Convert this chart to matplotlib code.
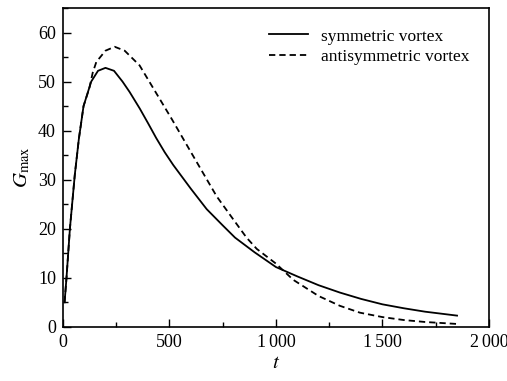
import matplotlib
matplotlib.use("Agg")
import matplotlib.pyplot as plt
from matplotlib.ticker import MultipleLocator, FixedLocator, FixedFormatter

plt.rcParams["font.family"] = ["Liberation Serif", "DejaVu Serif"]
plt.rcParams["mathtext.fontset"] = "stix"

# Symmetric vortex (solid)
t_sym = [8, 17, 33, 56, 75, 97, 133, 165, 200, 240, 280, 313, 361, 400,
         438, 478, 518, 600, 675, 750, 808, 900, 1000, 1100, 1200, 1300,
         1400, 1500, 1600, 1700, 1850]
g_sym = [5.0, 10.0, 20.0, 31.0, 38.3, 45.0, 50.0, 52.2, 52.8, 52.2, 50.0,
         47.9, 44.5, 41.5, 38.5, 35.6, 33.0, 28.2, 24.0, 20.7, 18.2, 15.2,
         12.2, 10.3, 8.5, 7.0, 5.7, 4.6, 3.8, 3.1, 2.3]

# Antisymmetric vortex (dashed)
t_anti = [8, 17, 33, 56, 75, 97, 125, 140, 157, 200, 243, 290, 360, 454,
          512, 600, 675, 722, 800, 862, 910, 1000, 1081, 1200, 1300, 1394,
          1500, 1600, 1700, 1850]
g_anti = [5.0, 10.0, 20.0, 31.0, 38.3, 45.0, 48.8, 51.8, 54.0, 56.3, 57.1,
          56.3, 53.3, 46.5, 42.3, 35.7, 30.1, 26.6, 21.9, 18.2, 15.9, 12.9,
          9.6, 6.3, 4.3, 2.9, 2.0, 1.4, 1.0, 0.6]

x_ticks = [0, 500, 1000, 1500, 2000]
x_tick_labels = ["0", "500", "1\u2006000", "1\u2006500", "2\u2006000"]

fig = plt.figure(figsize=(5.07, 3.81), dpi=100)
ax = fig.add_axes([0.124, 0.142, 0.8405, 0.837])

ax.plot(t_sym, g_sym, color="black", lw=1.3, label="symmetric vortex")
ax.plot(t_anti, g_anti, color="black", lw=1.3, linestyle=(0, (3.5, 2.2)),
        label="antisymmetric vortex")

ax.set_xlim(0, 2000)
ax.set_ylim(0, 65)
ax.xaxis.set_major_locator(FixedLocator(x_ticks))
ax.xaxis.set_major_formatter(FixedFormatter(x_tick_labels))
ax.xaxis.set_minor_locator(MultipleLocator(250))
ax.yaxis.set_major_locator(MultipleLocator(10))
ax.yaxis.set_minor_locator(MultipleLocator(5))
ax.tick_params(which="both", direction="in", top=False, right=False,
               labelsize=13, width=1.0)
ax.tick_params(which="major", length=6, pad=5)
ax.tick_params(which="minor", length=3.5)
for s in ax.spines.values():
    s.set_linewidth(1.2)

ax.set_xlabel(r"$t$", fontsize=15, labelpad=2)
ax.set_ylabel(r"$G_{\rm max}$", fontsize=15, labelpad=4)

ax.legend(loc="upper right", frameon=False, fontsize=12.5, handlelength=2.2,
          handletextpad=0.75, labelspacing=0.25, borderaxespad=0.5,
          bbox_to_anchor=(0.99, 0.985))

fig.savefig("out.png", dpi=100)
